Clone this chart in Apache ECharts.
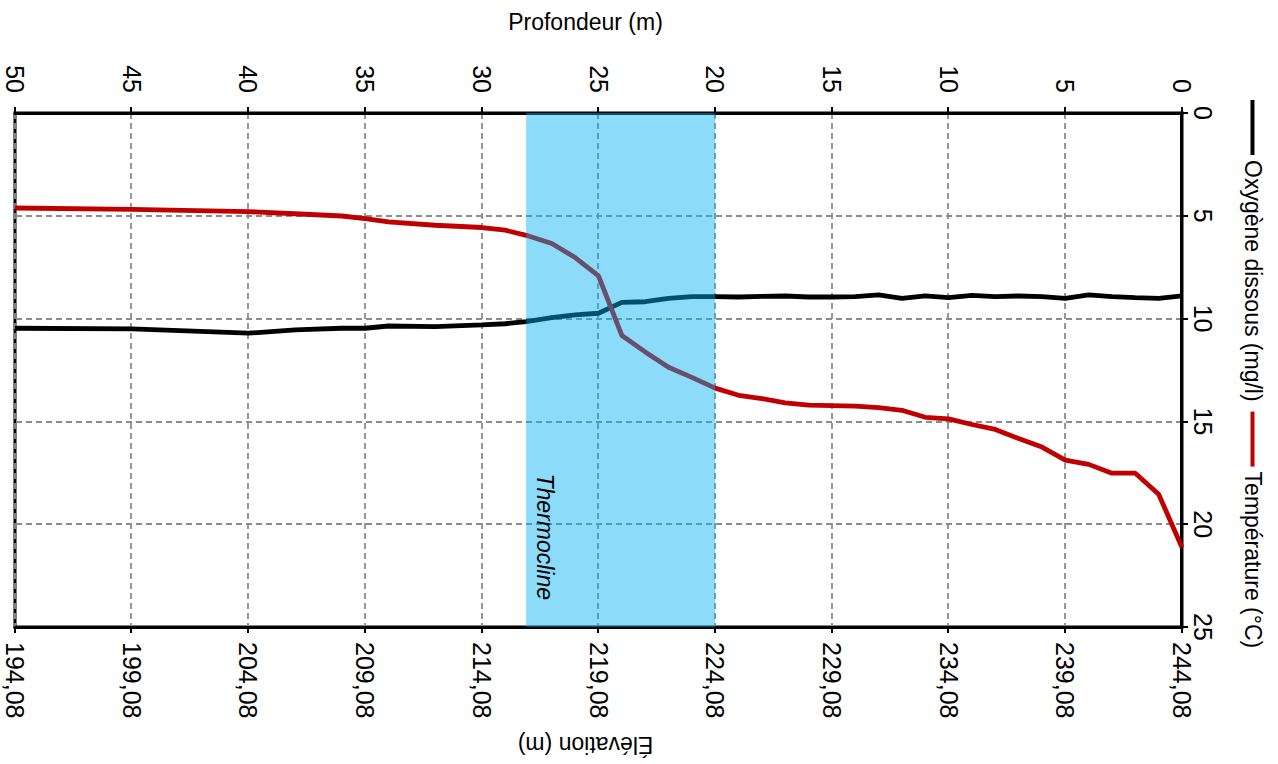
<!DOCTYPE html>
<html>
<head>
<meta charset="utf-8">
<title>Profil de température et d'oxygène dissous</title>
<script src="https://cdn.jsdelivr.net/npm/echarts@6/dist/echarts.min.js"></script>
<style>
  html, body { margin: 0; padding: 0; width: 1278px; height: 764px; overflow: hidden; background: #fff; }
  /* The profile is laid out portrait (depth downwards) and turned a quarter clockwise. */
  #chart {
    position: absolute;
    width: 764px; height: 1278px;
    left: 257px; top: -257px;
    transform: rotate(90deg);
    transform-origin: 50% 50%;
  }
</style>
</head>
<body>
<div id="chart"></div>
<script>
// Sampling depths (m) of the profile
const depth = [0, 1, 2, 3, 4, 5, 6, 7, 8, 9, 10, 11, 12, 13, 14, 15, 16, 17, 18, 19,
               20, 21, 22, 23, 24, 25, 26, 27, 28.1, 29, 30, 32, 34, 35, 36, 38, 40, 45, 50];

// Dissolved oxygen (mg/l)
const oxygen = [8.89, 9.02, 8.98, 8.93, 8.85, 9.02, 8.93, 8.90, 8.93, 8.87,
                8.98, 8.89, 9.02, 8.85, 8.93, 8.95, 8.95, 8.90, 8.92, 8.95,
                8.93, 8.93, 9.02, 9.18, 9.21, 9.74, 9.82, 9.95, 10.15, 10.25,
                10.31, 10.39, 10.36, 10.47, 10.47, 10.55, 10.71, 10.50, 10.47];

// Water temperature (°C)
const temperature = [21.13, 18.54, 17.52, 17.52, 17.09, 16.88, 16.25, 15.83, 15.39, 15.15,
                     14.88, 14.80, 14.46, 14.33, 14.26, 14.23, 14.21, 14.10, 13.89, 13.73,
                     13.38, 12.86, 12.37, 11.62, 10.82, 7.92, 7.03, 6.35, 5.95, 5.70,
                     5.57, 5.46, 5.30, 5.14, 5.01, 4.90, 4.80, 4.69, 4.62];

// Thermocline layer (depth range, m)
const thermocline = [20, 28.1];

// Water surface elevation (m), used for the elevation scale
const surfaceElevation = 244.08;

const seriesNames = ['Oxygène dissous (mg/l)', 'Température (°C)'];
const FONT = '"Liberation Sans", Arial, Helvetica, sans-serif';

const axisLine = { show: true, onZero: false, lineStyle: { color: '#000', width: 3 } };
const axisTick = { show: true, length: 6, lineStyle: { color: '#000', width: 2 } };
const gridLine = { show: true, lineStyle: { color: '#8c8c8c', width: 1.8, type: [6, 4] } };

const chart = echarts.init(document.getElementById('chart'), null, { renderer: 'svg' });

chart.setOption({
  animation: false,
  backgroundColor: '#fff',
  textStyle: { fontFamily: FONT },
  legend: {
    top: 9,
    left: 95,
    itemWidth: 55,
    itemHeight: 4,
    itemGap: 10,
    icon: 'rect',
    data: seriesNames,
    textStyle: { fontSize: 23, color: '#000', fontFamily: FONT }
  },
  grid: {
    left: 113, right: 137, top: 96, bottom: 15,
    show: true, borderColor: '#000', borderWidth: 3,
    containLabel: false,
    outerBoundsMode: 'none'
  },
  xAxis: {
    type: 'value',
    position: 'top',
    min: 0, max: 25, interval: 5,
    axisLine: axisLine,
    axisTick: axisTick,
    axisLabel: { margin: 8, fontSize: 25, color: '#000', fontFamily: FONT },
    splitLine: gridLine
  },
  yAxis: [
    {
      type: 'value',
      position: 'left',
      inverse: true,
      min: 0, max: 50, interval: 5,
      name: 'Profondeur (m)',
      nameLocation: 'middle',
      nameRotate: 90,
      nameGap: 80,
      nameMoveOverlap: false,
      nameTextStyle: { fontSize: 23, color: '#000', fontFamily: FONT, padding: [0, 26, 0, 0] },
      axisLine: axisLine,
      axisTick: axisTick,
      axisLabel: { margin: 20, fontSize: 25, color: '#000', fontFamily: FONT },
      splitLine: gridLine
    },
    {
      type: 'value',
      position: 'right',
      inverse: true,
      min: 0, max: 50, interval: 5,
      name: 'Élévation (m)',
      nameLocation: 'middle',
      nameRotate: -90,
      nameGap: 106,
      nameMoveOverlap: false,
      nameTextStyle: { fontSize: 23, color: '#000', fontFamily: FONT, padding: [0, 0, 0, 26] },
      axisLine: axisLine,
      axisTick: axisTick,
      axisLabel: {
        margin: 15, fontSize: 25, color: '#000', fontFamily: FONT,
        formatter: function (d) { return (surfaceElevation - d).toFixed(2).replace('.', ','); }
      },
      splitLine: { show: false }
    }
  ],
  series: [
    {
      name: seriesNames[0],
      type: 'line',
      yAxisIndex: 0,
      color: '#000000',
      symbol: 'none',
      lineStyle: { color: '#000000', width: 4.8 },
      data: depth.map(function (d, i) { return [oxygen[i], d]; }),
      z: 2
    },
    {
      name: seriesNames[1],
      type: 'line',
      yAxisIndex: 0,
      color: '#c00000',
      symbol: 'none',
      lineStyle: { color: '#c00000', width: 4.8 },
      data: depth.map(function (d, i) { return [temperature[i], d]; }),
      z: 2,
      markArea: {
        silent: true,
        z: 10,
        itemStyle: { color: 'rgba(0, 176, 240, 0.45)', borderWidth: 0 },
        label: {
          show: true,
          position: 'insideBottomRight',
          offset: [-22, -2],
          fontSize: 23,
          fontStyle: 'italic',
          color: '#000',
          fontFamily: FONT
        },
        data: [[
          { name: 'Thermocline', yAxis: thermocline[0] },
          { yAxis: thermocline[1] }
        ]]
      }
    }
  ]
});
</script>
</body>
</html>
